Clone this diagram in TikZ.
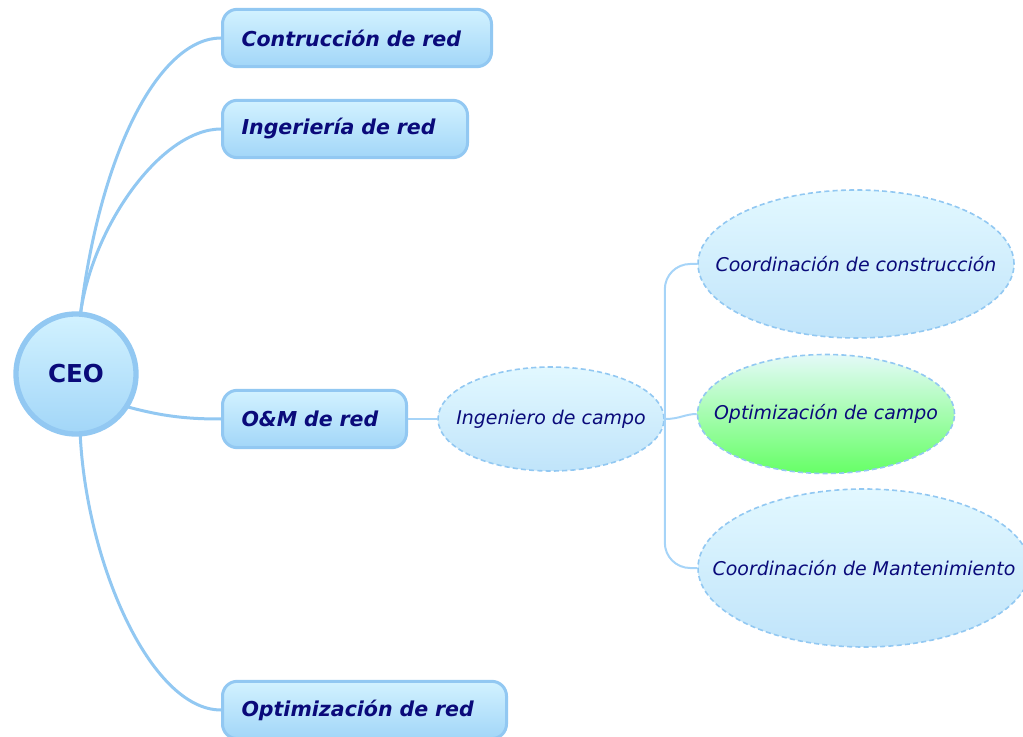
\documentclass[tikz,border=0pt]{standalone}
\usepackage{fontspec}
\setmainfont{DejaVu Sans}
\usetikzlibrary{shapes.geometric}
\definecolor{navy}{HTML}{0A0A7A}
\definecolor{lineblue}{HTML}{92C8F2}
\definecolor{thinblue}{HTML}{A6D4F8}
\definecolor{boxtop}{HTML}{D2F2FF}
\definecolor{boxbot}{HTML}{A2D6F8}
\definecolor{elltop}{HTML}{E2F8FF}
\definecolor{ellbot}{HTML}{C0E4FA}
\definecolor{greentop}{HTML}{E4FAF8}
\definecolor{greenbot}{HTML}{66FF66}
\newcommand{\zw}[1]{\makebox[0pt]{#1}}
\tikzset{
  mainbox/.style={draw=lineblue, line width=2.25pt, rounded corners=11pt,
    top color=boxtop, bottom color=boxbot, anchor=west,
    inner xsep=14.25pt, inner ysep=0pt, minimum height=43pt, align=left,
    text=navy, font=\fontsize{15.4}{18}\selectfont\bfseries\itshape},
  ceostyle/.style={circle, draw=lineblue, line width=4pt,
    top color=boxtop, bottom color=boxbot, minimum size=90pt, inner sep=0pt,
    text=navy, font=\fontsize{18.5}{22}\selectfont\bfseries},
  subell/.style={ellipse, draw=lineblue, line width=1.2pt, dash pattern=on 3.8pt off 2.4pt,
    top color=elltop, bottom color=ellbot, inner sep=0pt,
    text=navy, font=\fontsize{14.2}{17}\selectfont\itshape},
  conn/.style={draw=lineblue, line width=2.25pt},
  subconn/.style={draw=thinblue, line width=1.5pt}
}
\begin{document}
\begin{tikzpicture}[x=0.75pt,y=-0.75pt]
\useasboundingbox (0,0) rectangle (1023,737);
\clip (0,0) rectangle (1023,737);
% connectors from CEO (drawn first, behind nodes)
\coordinate (ceotop) at (80,318);
\coordinate (ceobot) at (80,430);
\coordinate (ceoright) at (128,407);
\coordinate (b1w) at (221,38);
\coordinate (b2w) at (221,129);
\coordinate (b3w) at (221,419);
\coordinate (b4w) at (221,710);
\path[conn] (ceotop) .. controls (100,150) and (160,38) .. (b1w);
\path[conn] (ceotop) .. controls (90,230) and (160,129) .. (b2w);
\path[conn] (ceoright) .. controls (165,417) and (190,419) .. (b3w);
\path[conn] (ceobot) .. controls (85,560) and (150,710) .. (b4w);
% central node
\node[ceostyle] (ceo) at (76,374) {CEO};
% main branches
\node[mainbox, text width=173.25pt] (b1) at (b1w) {Contrucción de red};
\node[mainbox, text width=155.25pt] (b2) at (b2w) {Ingeriería de red};
\node[mainbox, text width=109.5pt] (b3) at (b3w) {O\&M de red};
\node[mainbox, text width=184.5pt] (b4) at (b4w) {Optimización de red};
% sub nodes
\node[subell, minimum width=169.5pt, minimum height=78pt] (ing) at (551,419) {\zw{Ingeniero de campo}};
\node[subell, minimum width=237pt, minimum height=111pt] (cc) at (856,264) {\zw{Coordinación de construcción}};
\node[subell, minimum width=192.75pt, minimum height=89.25pt, top color=greentop, bottom color=greenbot] (oc) at (826,414) {\zw{Optimización de campo}};
\node[subell, minimum width=249pt, minimum height=118.5pt] (cm) at (864,568) {\zw{Coordinación de Mantenimiento}};
% sub connectors
\path[subconn] (b3.east) -- (ing.west);
\path[subconn, rounded corners=19pt] (ing.east) |- (cc.west);
\path[subconn, rounded corners=19pt] (ing.east) |- (cm.west);
\path[subconn] (ing.east) .. controls (680,419) and (685,414) .. (oc.west);
\end{tikzpicture}
\end{document}
